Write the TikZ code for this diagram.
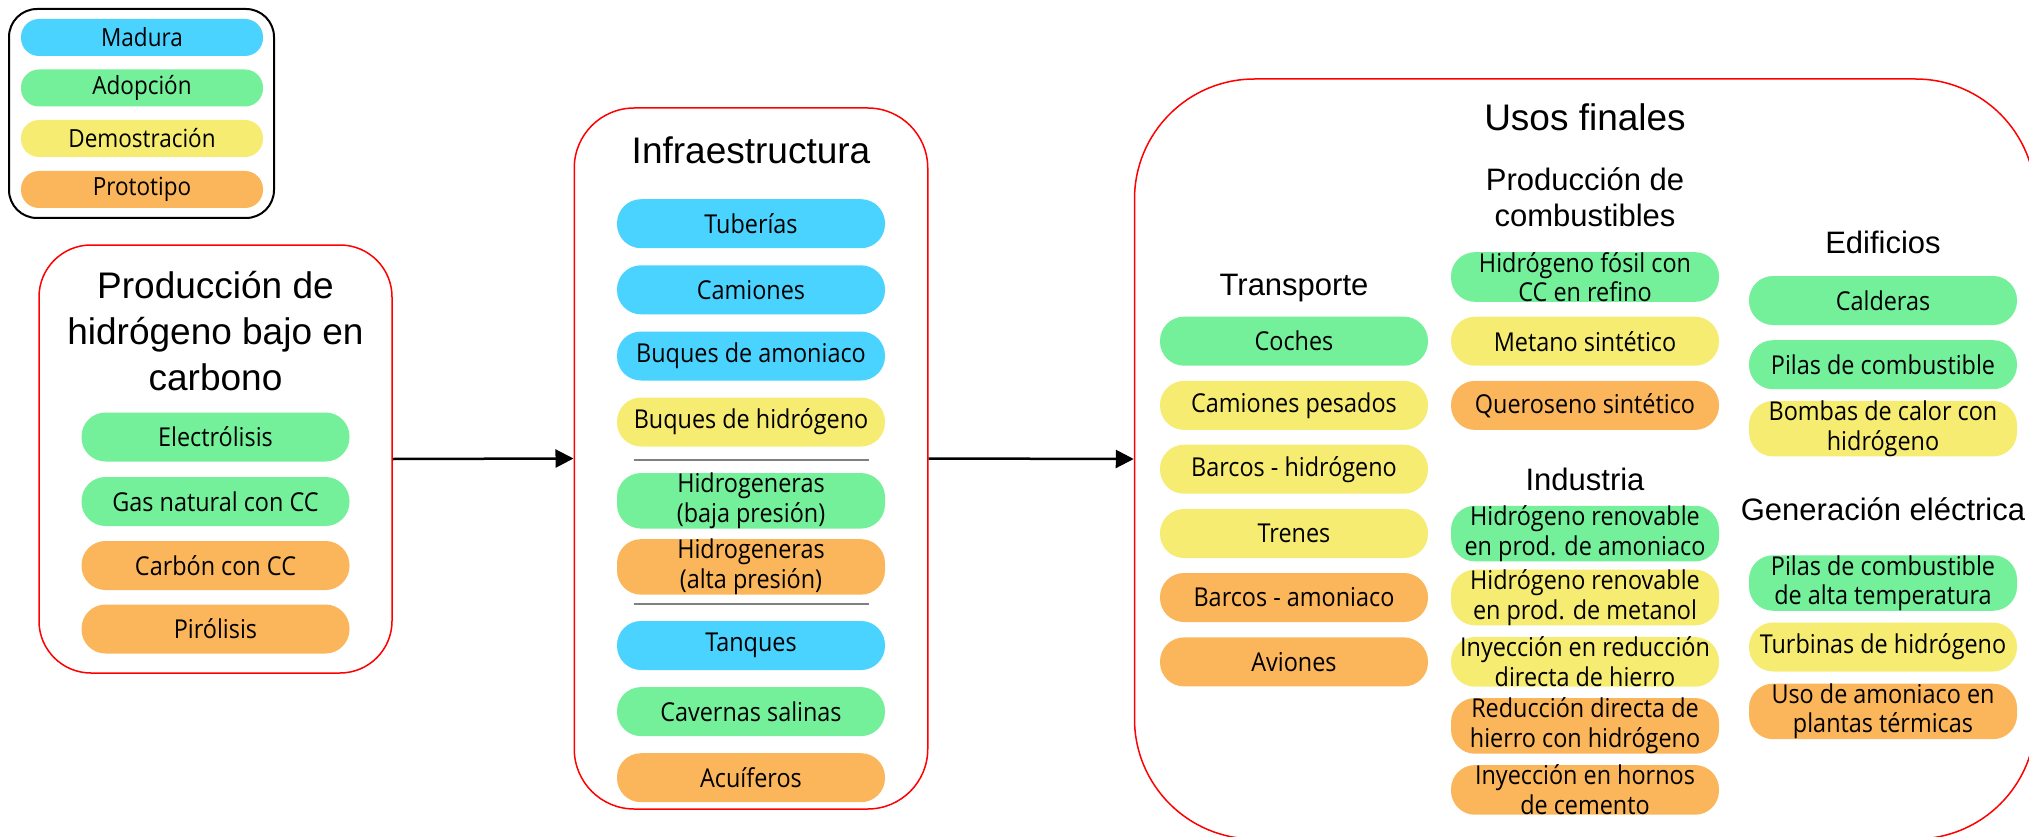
\documentclass[tikz,border=0pt]{standalone}
\usepackage{fontspec}
\setmainfont{Liberation Sans}
\newfontfamily\pillfont{Open Sans}[FakeStretch=0.9]
\usetikzlibrary{arrows.meta}

\definecolor{madura}{RGB}{74,211,255}
\definecolor{adopcion}{RGB}{115,240,153}
\definecolor{demo}{RGB}{246,236,114}
\definecolor{proto}{RGB}{251,181,90}
\definecolor{sepgray}{RGB}{128,128,128}

\tikzset{
  pill/.style={rectangle, rounded corners=24pt, minimum width=268pt, minimum height=49pt,
    inner sep=0pt, align=center, font=\pillfont\fontsize{26}{29.5}\selectfont},
  legpill/.style={pill, minimum width=242pt, minimum height=37pt, rounded corners=18pt,
    font=\pillfont\fontsize{25}{29}\selectfont},
  groupbox/.style={draw=red, line width=1.5pt, inner sep=0pt},
  bigtitle/.style={align=center, font=\fontsize{37}{46}\selectfont},
  subtitle/.style={align=center, font=\fontsize{31}{36}\selectfont},
  flow/.style={line width=2.5pt, -{Triangle[length=18pt,width=18pt]}}
}

\begin{document}
\begin{tikzpicture}[x=1pt,y=-1pt]
\useasboundingbox (0,0) rectangle (2029,837);

% legend
\node[draw=black, line width=2pt, rounded corners=28pt, minimum width=265pt, minimum height=209pt] (legend) at (141.5,113.5) {};
\node[legpill, fill=madura] (legmad) at (142,37.5) {Madura};
\node[legpill, fill=adopcion] (legado) at (142,88) {Adopción};
\node[legpill, fill=demo] (legdem) at (142,138.5) {Demostración};
\node[legpill, fill=proto] (legpro) at (142,189.5) {Prototipo};

% produccion de hidrogeno
\node[groupbox, rounded corners=52pt, minimum width=353pt, minimum height=428pt] (prodbox) at (215.5,459) {};
\node[bigtitle] (prodtitle) at (215.5,331) {Producción de\\hidrógeno bajo en\\carbono};
\node[pill, fill=adopcion] (electro) at (215.5,437) {Electrólisis};
\node[pill, fill=adopcion] (gasnat) at (215.5,501.5) {Gas natural con CC};
\node[pill, fill=proto] (carbon) at (215.5,565.5) {Carbón con CC};
\node[pill, fill=proto] (pirol) at (215.5,629) {Pirólisis};

% infraestructura
\node[groupbox, rounded corners=60pt, minimum width=353.5pt, minimum height=701pt] (infrabox) at (751,458.5) {};
\node[bigtitle] (infratitle) at (751,150) {Infraestructura};
\node[pill, fill=madura] (tuber) at (751,223.7) {Tuberías};
\node[pill, fill=madura] (camion) at (751,289.8) {Camiones};
\node[pill, fill=madura] (buqam) at (751,356) {Buques de amoniaco};
\node[pill, fill=demo] (buqhid) at (751,422) {Buques de hidrógeno};
\node[pill, fill=adopcion] (hidbaja) at (751,500.8) {Hidrogeneras\\(baja presión)};
\node[pill, fill=proto] (hidalta) at (751,566.9) {Hidrogeneras\\(alta presión)};
\node[pill, fill=madura] (tanq) at (751,645.5) {Tanques};
\node[pill, fill=adopcion] (cavern) at (751,711.6) {Cavernas salinas};
\node[pill, fill=proto] (acuif) at (751,777.7) {Acuíferos};
% separators
\draw[sepgray, line width=2pt] (633.5,460.4) -- (869.2,460.4);
\draw[sepgray, line width=2pt] (633.5,603.7) -- (869.2,603.7);

% usos finales
\node[groupbox, rounded corners=120pt, minimum width=901pt, minimum height=760pt] (usosbox) at (1585,459) {};
\node[bigtitle] (usostitle) at (1585,117) {Usos finales};

% transporte
\node[subtitle] (transp) at (1294,287.7) {Transporte};
\node[pill, fill=adopcion] (coches) at (1294,341.2) {Coches};
\node[pill, fill=demo] (campes) at (1294,405.4) {Camiones pesados};
\node[pill, fill=demo] (barhid) at (1294,469.2) {Barcos - hidrógeno};
\node[pill, fill=demo] (trenes) at (1294,533.5) {Trenes};
\node[pill, fill=proto] (baramo) at (1294,597.5) {Barcos - amoniaco};
\node[pill, fill=proto] (aviones) at (1294,661.9) {Aviones};

% produccion de combustibles
\node[subtitle] (combust) at (1585,197) {Producción de\\combustibles};
\node[pill, fill=adopcion] (fosil) at (1585,277) {Hidrógeno fósil con\\CC en refino};
\node[pill, fill=demo] (metano) at (1585,341.2) {Metano sintético};
\node[pill, fill=proto] (querose) at (1585,405.4) {Queroseno sintético};

% industria
\node[subtitle] (indust) at (1585,479.3) {Industria};
\node[pill, fill=adopcion] (renamo) at (1585,533.6) {Hidrógeno renovable\\en prod. de amoniaco};
\node[pill, fill=demo] (renmet) at (1585,597.5) {Hidrógeno renovable\\en prod. de metanol};
\node[pill, fill=demo] (inyred) at (1585,661.9) {Inyección en reducción\\directa de hierro};
\node[pill, fill=proto] (reddir) at (1585,725.9) {Reducción directa de\\hierro con hidrógeno};
\node[pill, fill=proto] (inyhor) at (1585,789.9) {Inyección en hornos\\de cemento};

% edificios
\node[subtitle] (edif) at (1883,242.7) {Edificios};
\node[pill, fill=adopcion] (calder) at (1883,300.5) {Calderas};
\node[pill, fill=adopcion] (pilas) at (1883,364.7) {Pilas de combustible};
\node[pill, fill=demo] (bombas) at (1883,428.7) {Bombas de calor con\\hidrógeno};

% generacion electrica
\node[subtitle] (genelec) at (1883,509.3) {Generación eléctrica};
\node[pill, fill=adopcion] (pilalta) at (1883,583) {Pilas de combustible\\de alta temperatura};
\node[pill, fill=demo] (turbin) at (1883,647) {Turbinas de hidrógeno};
\node[pill, fill=proto] (usoamo) at (1883,711.4) {Uso de amoniaco en\\plantas térmicas};

% flechas
\draw[flow] (prodbox.east) -- (infrabox.west);
\draw[flow] (infrabox.east) -- (usosbox.west);

\end{tikzpicture}
\end{document}
